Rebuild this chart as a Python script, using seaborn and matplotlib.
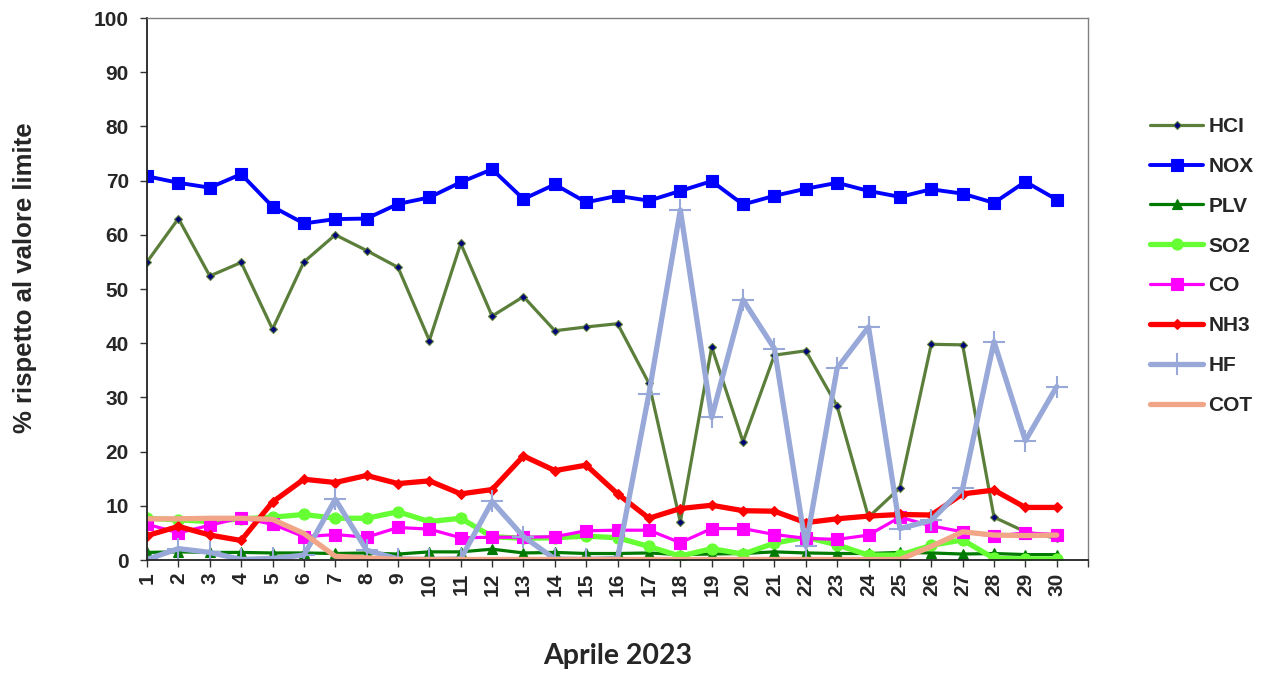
import pandas as pd
import seaborn as sns
import matplotlib.pyplot as plt

days = list(range(1, 31))

hcl = [55.0, 63.0, 52.4, 54.9, 42.6, 55.0, 60.0, 57.1, 54.0, 40.5,
       58.4, 45.0, 48.6, 42.3, 43.0, 43.6, 32.6, 7.0, 39.3, 21.8,
       37.8, 38.6, 28.4, 7.9, 13.3, 39.8, 39.7, 7.9, 5.2, 4.0]
nox = [70.8, 69.6, 68.7, 71.2, 65.2, 62.1, 62.9, 63.0, 65.7, 66.9,
       69.7, 72.1, 66.6, 69.3, 66.0, 67.2, 66.3, 68.1, 69.9, 65.6,
       67.2, 68.5, 69.6, 68.1, 67.0, 68.4, 67.6, 65.9, 69.8, 66.5]
plv = [1.4, 1.5, 1.4, 1.4, 1.3, 1.3, 1.2, 1.3, 1.1, 1.5,
       1.5, 2.0, 1.3, 1.4, 1.2, 1.2, 1.3, 1.0, 1.1, 1.2,
       1.5, 1.3, 1.2, 1.2, 1.4, 1.3, 1.1, 1.2, 1.0, 1.0]
so2 = [7.7, 7.4, 7.1, 7.6, 7.9, 8.4, 7.7, 7.7, 8.9, 7.1,
       7.7, 4.3, 4.0, 4.1, 4.4, 4.1, 2.5, 0.7, 2.1, 1.1,
       3.1, 4.2, 2.8, 0.9, 0.9, 2.7, 3.7, 0.3, 0.2, 0.2]
co = [6.6, 5.0, 6.4, 7.8, 6.6, 4.3, 4.7, 4.2, 6.0, 5.7,
      4.1, 4.2, 4.2, 4.3, 5.4, 5.5, 5.5, 3.2, 5.8, 5.8,
      4.7, 4.0, 3.8, 4.6, 7.9, 6.3, 5.2, 4.4, 5.0, 4.7]
nh3 = [4.5, 6.2, 4.6, 3.6, 10.7, 14.9, 14.3, 15.6, 14.1, 14.6,
       12.2, 13.0, 19.2, 16.5, 17.5, 12.2, 7.7, 9.5, 10.1, 9.1,
       9.0, 6.9, 7.6, 8.1, 8.4, 8.3, 12.2, 12.9, 9.7, 9.7]
hf = [0.1, 2.1, 1.4, 0.1, 0.3, 0.9, 11.2, 1.8, 0.2, 0.1,
      0.2, 10.8, 4.3, 0.2, 0.1, 0.3, 30.7, 64.6, 26.3, 48.0,
      39.0, 2.5, 35.4, 43.0, 5.8, 7.3, 13.2, 40.3, 22.0, 32.0]
cot = [7.6, 7.6, 7.7, 7.7, 7.5, 4.9, 0.7, 0.4, 0.1, 0.1,
       0.1, 0.1, 0.1, 0.1, 0.1, 0.1, 0.1, 0.1, 0.1, 0.1,
       0.1, 0.1, 0.1, 0.1, 0.1, 2.5, 5.2, 4.6, 4.5, 4.6]

df = pd.DataFrame({"Giorno": days, "HCI": hcl, "NOX": nox, "PLV": plv, "SO2": so2,
                   "CO": co, "NH3": nh3, "HF": hf, "COT": cot})

# name: (line colour, width, marker, marker size, marker face, marker edge)
styles = {
    "HCI": ("#5b7f3a", 2.3, "D", 4, "#00007a", "#5b7f3a"),
    "NOX": ("#0000ff", 2.8, "s", 8, "#0000ff", "#0000ff"),
    "PLV": ("#007a00", 2.3, "^", 7, "#007a00", "#007a00"),
    "SO2": ("#66ff33", 3.8, "o", 8, "#66ff33", "#66ff33"),
    "CO": ("#ff00ff", 2.3, "s", 8, "#ff00ff", "#ff00ff"),
    "NH3": ("#ff0000", 3.8, "D", 5, "#ff0000", "#ff0000"),
    "HF": ("#98a8d8", 3.8, "+", 16, "#98a8d8", "#98a8d8"),
    "COT": ("#f2a688", 3.8, None, 0, "#f2a688", "#f2a688"),
}

sns.set_style("white")
plt.rcParams['font.family'] = ['Liberation Sans', 'DejaVu Sans']

fig = plt.figure(figsize=(12.71, 6.73), dpi=100)
ax = fig.add_axes([0.1157, 0.1679, 0.7404, 0.8053])

for name, (col, lw, mk, ms, mfc, mec) in styles.items():
    sns.lineplot(data=df, x="Giorno", y=name, ax=ax, color=col, linewidth=lw,
                 marker=mk, markersize=ms, markerfacecolor=mfc,
                 markeredgecolor=mec, markeredgewidth=1.5 if mk == "+" else 0.8,
                 label=name, sort=False)

ax.set_xlim(1, 31)
ax.set_ylim(0, 100)
ax.set_xticks(range(1, 32))
ax.set_xticklabels([str(d) for d in days] + [""], rotation=90,
                   fontsize=15, fontweight="bold")
ax.set_yticks(range(0, 101, 10))
ax.set_yticklabels([str(v) for v in range(0, 101, 10)], fontsize=15, fontweight="bold")
ax.tick_params(axis="both", direction="out", length=5, width=1, color="#333333",
               left=True, bottom=True)
ax.tick_params(axis="y", pad=8)
ax.tick_params(axis="x", pad=4)

for side in ["left", "bottom"]:
    ax.spines[side].set_color("#222222")
    ax.spines[side].set_linewidth(1.3)
for side in ["top", "right"]:
    ax.spines[side].set_color("#808080")
    ax.spines[side].set_linewidth(1.0)

ax.set_xlabel("Aprile 2023", fontsize=20.5, fontweight="bold", family="Lato")
ax.set_ylabel("% rispetto al valore limite", fontsize=18.5, fontweight="bold")
ax.xaxis.set_label_coords(0.5, -0.153)
ax.yaxis.set_label_coords(-0.117, 0.52)

leg = ax.legend(loc="upper left", bbox_to_anchor=(0.890, 0.854), bbox_transform=fig.transFigure,
                frameon=False, fontsize=15, handlelength=2.55, labelspacing=1.0,
                handletextpad=0.25)
for t in leg.get_texts():
    t.set_fontweight("bold")

fig.savefig("out.png", dpi=100)
